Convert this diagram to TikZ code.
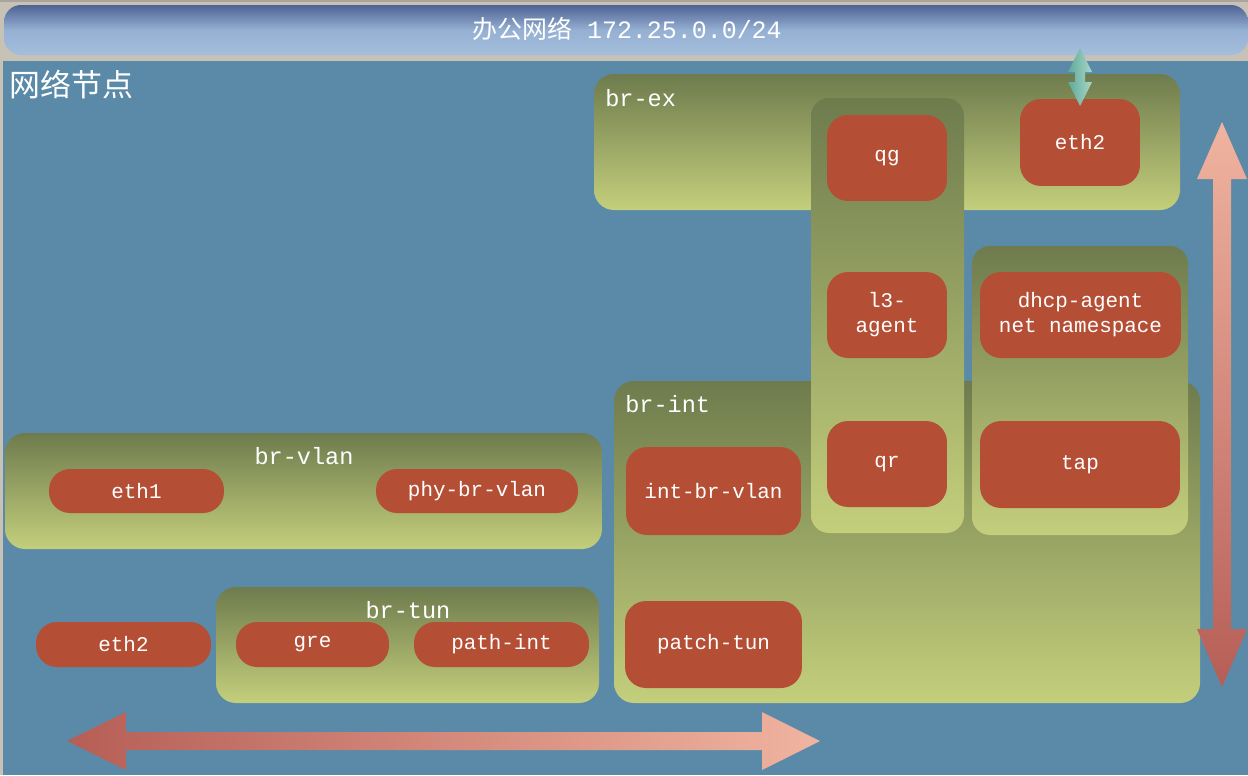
\documentclass[tikz,border=0pt]{standalone}
\usepackage{fontspec}
\newfontfamily\monofont{Liberation Mono}
\newfontfamily\cjkfont{Noto Sans CJK SC}
\usetikzlibrary{fit,calc}
\definecolor{paper}{HTML}{C8C1B6}
\definecolor{paperEdge}{HTML}{A9A59D}
\definecolor{sea}{HTML}{5A8AA8}
\definecolor{skyTop}{HTML}{4E6393}
\definecolor{skyMid}{HTML}{96B0D3}
\definecolor{skyBot}{HTML}{A4BEDD}
\definecolor{brTop}{HTML}{6E7B4D}
\definecolor{brBot}{HTML}{C4CF7C}
\definecolor{portRed}{HTML}{B44F36}
\definecolor{pinkLight}{HTML}{F0B4A0}
\definecolor{pinkDark}{HTML}{B65E56}
\definecolor{tealDark}{HTML}{5EA99B}
\definecolor{tealLight}{HTML}{A8D8C6}
\tikzset{
  bridge/.style = {top color=brTop, bottom color=brBot, rounded corners=0.4cm, inner sep=0pt},
  nsbox/.style  = {top color=brTop, bottom color=brBot, rounded corners=0.36cm, inner sep=0pt},
  port/.style   = {fill=portRed, rounded corners=0.42cm, inner sep=0pt, align=center, text=white,
                   font=\monofont\fontsize{11.9}{14.2}\selectfont},
  dims/.style 2 args = {minimum width=#1cm, minimum height=#2cm},
  brname/.style = {text=white, inner sep=0pt, font=\monofont\fontsize{13.4}{16}\selectfont},
  flow/.style   = {draw=none}
}

\begin{document}
\begin{tikzpicture}[x=0.02cm, y=-0.02cm]
\useasboundingbox (0,0) rectangle (1248,775);
% backdrop
\fill[paper] (0,0) rectangle (1248,775);
\fill[paperEdge] (0,0) rectangle (1248,2);
\fill[sea] (3,61) rectangle (1248,775);

% office network
\node[fit={(4,5) (1248,55)}, inner sep=0pt, rounded corners=0.34cm,
      top color=skyTop, bottom color=skyBot, middle color=skyMid] (office) {};
\node[text=white, inner sep=0pt, font=\monofont\fontsize{14.2}{17}\selectfont] (officename) at (627,29)
  {{\cjkfont 办公网络} 172.25.0.0/24};
\node[text=white, inner sep=0pt, anchor=west, font=\cjkfont\fontsize{17.6}{20}\selectfont] (title) at (9,85) {网络节点};

% bridges
\node[bridge, fit={(594,74) (1180,210)}] (brex) {};
\node[bridge, fit={(614,381) (1200,703)}] (brint) {};
\node[bridge, fit={(5,433) (602,549)}] (brvlan) {};
\node[bridge, fit={(216,587) (599,703)}] (brtun) {};
\node[brname, anchor=base west] (brexname) at (605,106) {br-ex};
\node[brname, anchor=base west] (brintname) at (625,412) {br-int};
\node[brname, anchor=base] (brvlanname) at (304,464) {br-vlan};
\node[brname, anchor=base] (brtunname) at (408,618) {br-tun};

% namespaces
\node[nsbox, fit={(811,98) (964,533)}] (router) {};
\node[nsbox, fit={(972,246) (1188,535)}] (dhcp) {};

% ports
\node[port, dims={2.4}{1.72}] (qg) at (887,158) {qg};
\node[port, dims={2.4}{1.74}] (exeth) at (1080,142.5) {eth2};
\node[port, dims={2.4}{1.72}] (l3) at (887,315) {l3-\\agent};
\node[port, dims={4.02}{1.72}] (dhcpns) at (1080.5,315) {dhcp-agent\\net namespace};
\node[port, dims={2.4}{1.72}] (qr) at (887,464) {qr};
\node[port, dims={4.0}{1.74}] (tap) at (1080,464.5) {tap};
\node[port, dims={3.5}{1.76}] (intvlan) at (713.5,491) {int-br-vlan};
\node[port, dims={3.54}{1.74}] (patchtun) at (713.5,644.5) {patch-tun};
\node[port, dims={3.5}{0.88}] (eth1) at (136.5,491) {eth1};
\node[port, dims={4.04}{0.88}] (phyvlan) at (477,491) {phy-br-vlan};
\node[port, dims={3.5}{0.9}] (tuneth) at (123.5,644.5) {eth2};
\node[port, dims={3.06}{0.9}] (gre) at (312.5,644.5) {gre};
\node[port, dims={3.5}{0.9}] (pathint) at (501.5,644.5) {path-int};

% uplink office <-> eth2
\shade[flow, left color=tealDark, right color=tealLight]
  (1080,48) -- (1092,72) -- (1085,72) -- (1085,82) -- (1092,82) -- (1080,106)
  -- (1068,82) -- (1075,82) -- (1075,72) -- (1068,72) -- cycle;

% big traffic arrows
\shade[flow, top color=pinkLight, bottom color=pinkDark]
  (1222,122) -- (1247,179) -- (1231,179) -- (1231,629) -- (1247,629) -- (1222,687)
  -- (1197,629) -- (1213,629) -- (1213,179) -- (1197,179) -- cycle;
\shade[flow, left color=pinkDark, right color=pinkLight]
  (67,741) -- (126,712) -- (126,732) -- (762,732) -- (762,712) -- (820,741)
  -- (762,770) -- (762,750) -- (126,750) -- (126,770) -- cycle;
\end{tikzpicture}
\end{document}
